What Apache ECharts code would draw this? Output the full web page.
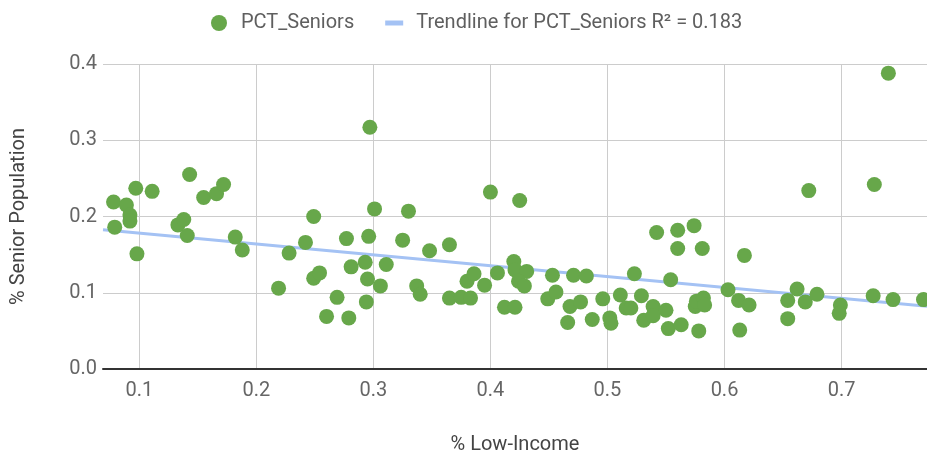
<!DOCTYPE html>
<html>
<head>
<meta charset="utf-8">
<script src="https://cdn.jsdelivr.net/npm/echarts@6/dist/echarts.min.js"></script>
<style>
  html, body { margin: 0; padding: 0; background: #fff; }
  #chart { width: 927px; height: 456px; }
</style>
</head>
<body>
<div id="chart"></div>
<script>
// % Low-Income (x)
const pctLowIncome = [
  0.078, 0.079, 0.089, 0.092, 0.092, 0.097, 0.098, 0.111, 0.133, 0.138,
  0.141, 0.143, 0.155, 0.166, 0.172, 0.182, 0.188, 0.219, 0.228, 0.242,
  0.249, 0.249, 0.254, 0.260, 0.269, 0.277, 0.279, 0.281, 0.293, 0.294,
  0.296, 0.295, 0.297, 0.301, 0.306, 0.311, 0.325, 0.330, 0.337, 0.340,
  0.348, 0.365, 0.365, 0.375, 0.380, 0.383, 0.386, 0.395, 0.400, 0.406,
  0.412, 0.421, 0.420, 0.421, 0.425, 0.431, 0.424, 0.429, 0.453, 0.449,
  0.456, 0.468, 0.466, 0.471, 0.477, 0.482, 0.487, 0.496, 0.502, 0.503,
  0.511, 0.516, 0.520, 0.523, 0.529, 0.531, 0.539, 0.539, 0.542, 0.550,
  0.552, 0.554, 0.560, 0.560, 0.563, 0.574, 0.575, 0.576, 0.578, 0.581,
  0.582, 0.583, 0.603, 0.612, 0.613, 0.617, 0.621, 0.654, 0.654, 0.662,
  0.669, 0.672, 0.679, 0.699, 0.698, 0.727, 0.728, 0.740, 0.744, 0.770
];
// PCT_Seniors (y)
const pctSeniors = [
  0.219, 0.186, 0.215, 0.202, 0.194, 0.237, 0.151, 0.233, 0.189, 0.196,
  0.175, 0.255, 0.225, 0.230, 0.242, 0.173, 0.156, 0.106, 0.152, 0.166,
  0.200, 0.119, 0.126, 0.069, 0.094, 0.171, 0.067, 0.134, 0.140, 0.088,
  0.174, 0.118, 0.317, 0.210, 0.109, 0.137, 0.169, 0.207, 0.109, 0.098,
  0.155, 0.163, 0.093, 0.094, 0.115, 0.093, 0.125, 0.110, 0.232, 0.126,
  0.081, 0.081, 0.141, 0.130, 0.221, 0.128, 0.115, 0.109, 0.123, 0.092,
  0.101, 0.082, 0.061, 0.123, 0.088, 0.122, 0.065, 0.092, 0.067, 0.060,
  0.097, 0.080, 0.080, 0.125, 0.096, 0.064, 0.082, 0.070, 0.179, 0.077,
  0.053, 0.117, 0.182, 0.158, 0.058, 0.188, 0.082, 0.089, 0.050, 0.158,
  0.093, 0.084, 0.104, 0.090, 0.051, 0.149, 0.084, 0.090, 0.066, 0.105,
  0.088, 0.234, 0.098, 0.084, 0.073, 0.096, 0.242, 0.388, 0.091, 0.091
];
const yTickLabels = ['0.0', '0.1', '0.2', '0.3', '0.4'];

const xMin = 0.069, xMax = 0.773;

// linear trendline (least squares) from the data
function trend(xs, ys) {
  const n = xs.length;
  let sx = 0, sy = 0, sxx = 0, sxy = 0;
  for (let i = 0; i < n; i++) {
    sx += xs[i]; sy += ys[i]; sxx += xs[i] * xs[i]; sxy += xs[i] * ys[i];
  }
  const b = (n * sxy - sx * sy) / (n * sxx - sx * sx);
  const a = (sy - b * sx) / n;
  return [[xMin, a + b * xMin], [xMax, a + b * xMax]];
}

const points = pctLowIncome.map((x, i) => [x, pctSeniors[i]]);
const trendName = 'Trendline for PCT_Seniors R² = 0.183';

const chart = echarts.init(document.getElementById('chart'));
chart.setOption({
  animation: false,
  textStyle: { fontFamily: 'Roboto' },
  legend: {
    top: 8,
    left: 206,
    itemGap: 31,
    itemWidth: 18,
    itemHeight: 16,
    textStyle: { fontSize: 20, color: '#5f5f5f', fontFamily: 'Roboto', padding: [0, 0, 0, 8] },
    data: [
      { name: 'PCT_Seniors', icon: 'circle' },
      { name: trendName, icon: 'path://M0,0 L18,0 L18,5 L0,5 Z' }
    ]
  },
  grid: { left: 103, right: 0, top: 64, bottom: 87, outerBoundsMode: 'none', containLabel: false },
  xAxis: {
    type: 'value',
    min: xMin,
    max: xMax,
    splitNumber: 7,
    minInterval: 0.1,
    maxInterval: 0.1,
    name: '% Low-Income',
    nameLocation: 'middle',
    nameGap: 66,
    nameTextStyle: { fontSize: 20, color: '#444', fontFamily: 'Roboto' },
    axisLine: { show: true, lineStyle: { color: '#333', width: 2 } },
    axisTick: { show: false },
    axisLabel: {
      fontSize: 20, color: '#666', margin: 12,
      showMinLabel: false, showMaxLabel: false,
      formatter: v => v.toFixed(1)
    },
    splitLine: { show: true, showMinLine: false, showMaxLine: false, lineStyle: { color: '#ccc', width: 1 } }
  },
  yAxis: {
    type: 'value',
    min: 0,
    max: 0.4,
    interval: 0.1,
    name: '% Senior Population',
    nameLocation: 'middle',
    nameGap: 74,
    nameTextStyle: { fontSize: 20, color: '#444', fontFamily: 'Roboto' },
    axisLine: { show: false },
    axisTick: { show: false },
    axisLabel: {
      fontSize: 20, color: '#666', margin: 6,
      formatter: v => yTickLabels[Math.round(v * 10)]
    },
    splitLine: { show: true, lineStyle: { color: '#ccc', width: 1 } }
  },
  series: [
    {
      name: trendName,
      type: 'line',
      data: trend(pctLowIncome, pctSeniors),
      symbol: 'none',
      z: 1,
      itemStyle: { color: '#a4c2f4' },
      lineStyle: { color: '#a4c2f4', width: 3 }
    },
    {
      name: 'PCT_Seniors',
      type: 'scatter',
      data: points,
      symbolSize: 15,
      z: 2,
      itemStyle: { color: '#67a74a', opacity: 1 }
    }
  ]
});
window.addEventListener('resize', () => chart.resize());
</script>
</body>
</html>
